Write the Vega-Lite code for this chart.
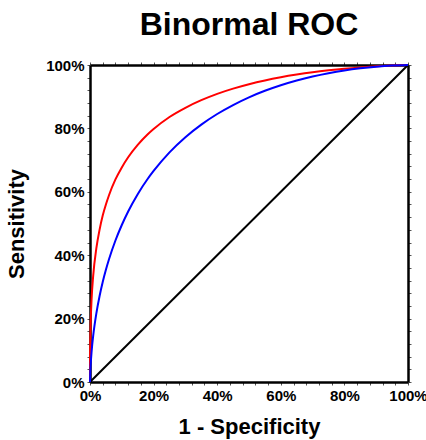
{
  "$schema": "https://vega.github.io/schema/vega-lite/v6.json",
  "autosize": "none",
  "width": 318,
  "height": 317,
  "padding": {"left": 90, "top": 65, "right": 18, "bottom": 58},
  "background": "white",
  "title": {"text": "Binormal ROC", "font": "Liberation Sans", "fontSize": 32, "fontWeight": "bold", "color": "black", "anchor": "middle", "offset": 16},
  "config": {"view": {"stroke": null}},
  "datasets": {
    "diag": [{"fpr": 0, "tpr": 0}, {"fpr": 1, "tpr": 1}],
    "red": [
      {"fpr": 0, "tpr": 0}, {"fpr": 0.0002, "tpr": 0.08}, {"fpr": 0.001, "tpr": 0.141}, {"fpr": 0.002, "tpr": 0.185}, {"fpr": 0.005, "tpr": 0.261},
      {"fpr": 0.01, "tpr": 0.335}, {"fpr": 0.02, "tpr": 0.422}, {"fpr": 0.03, "tpr": 0.48}, {"fpr": 0.04, "tpr": 0.525},
      {"fpr": 0.05, "tpr": 0.56}, {"fpr": 0.06, "tpr": 0.59}, {"fpr": 0.08, "tpr": 0.639}, {"fpr": 0.1, "tpr": 0.677},
      {"fpr": 0.12, "tpr": 0.709}, {"fpr": 0.15, "tpr": 0.748}, {"fpr": 0.18, "tpr": 0.78}, {"fpr": 0.2, "tpr": 0.798},
      {"fpr": 0.25, "tpr": 0.836}, {"fpr": 0.3, "tpr": 0.865}, {"fpr": 0.35, "tpr": 0.889}, {"fpr": 0.4, "tpr": 0.909},
      {"fpr": 0.45, "tpr": 0.9255}, {"fpr": 0.5, "tpr": 0.9394}, {"fpr": 0.55, "tpr": 0.9512}, {"fpr": 0.6, "tpr": 0.9612},
      {"fpr": 0.65, "tpr": 0.9697}, {"fpr": 0.7, "tpr": 0.977}, {"fpr": 0.75, "tpr": 0.9831}, {"fpr": 0.8, "tpr": 0.9883},
      {"fpr": 0.85, "tpr": 0.9925}, {"fpr": 0.9, "tpr": 0.9959}, {"fpr": 0.95, "tpr": 0.9984}, {"fpr": 1, "tpr": 1}
    ],
    "blue": [
      {"fpr": 0, "tpr": 0}, {"fpr": 0.001, "tpr": 0.0344}, {"fpr": 0.002, "tpr": 0.0539}, {"fpr": 0.005, "tpr": 0.0958},
      {"fpr": 0.01, "tpr": 0.1455}, {"fpr": 0.02, "tpr": 0.2165}, {"fpr": 0.03, "tpr": 0.2706}, {"fpr": 0.04, "tpr": 0.3153},
      {"fpr": 0.05, "tpr": 0.3538}, {"fpr": 0.06, "tpr": 0.3878}, {"fpr": 0.08, "tpr": 0.4463}, {"fpr": 0.1, "tpr": 0.4952},
      {"fpr": 0.12, "tpr": 0.5378}, {"fpr": 0.15, "tpr": 0.5925}, {"fpr": 0.18, "tpr": 0.6387}, {"fpr": 0.2, "tpr": 0.6657},
      {"fpr": 0.25, "tpr": 0.7244}, {"fpr": 0.3, "tpr": 0.7722}, {"fpr": 0.35, "tpr": 0.8119}, {"fpr": 0.4, "tpr": 0.8454},
      {"fpr": 0.45, "tpr": 0.8737}, {"fpr": 0.5, "tpr": 0.898}, {"fpr": 0.55, "tpr": 0.9186}, {"fpr": 0.6, "tpr": 0.9361},
      {"fpr": 0.65, "tpr": 0.951}, {"fpr": 0.7, "tpr": 0.9636}, {"fpr": 0.75, "tpr": 0.9741}, {"fpr": 0.8, "tpr": 0.9827},
      {"fpr": 0.85, "tpr": 0.9894}, {"fpr": 0.9, "tpr": 0.9946}, {"fpr": 0.95, "tpr": 0.9982}, {"fpr": 1, "tpr": 1}
    ]
  },
  "resolve": {"axis": {"x": "independent", "y": "independent"}},
  "layer": [
    {
      "data": {"name": "diag"},
      "mark": {"type": "line", "color": "black", "strokeWidth": 2},
      "encoding": {
        "x": {"field": "fpr", "type": "quantitative", "scale": {"domain": [0, 1], "nice": false},
          "axis": {"orient": "bottom", "title": "1 - Specificity", "format": ".0%",
            "values": [0,0.04,0.08,0.12,0.16,0.2,0.24,0.28,0.32,0.36,0.4,0.44,0.48,0.52,0.56,0.6,0.64,0.68,0.72,0.76,0.8,0.84,0.88,0.92,0.96,1],
            "labelExpr": "abs(datum.value*5 - round(datum.value*5)) < 0.001 ? datum.label : ''",
            "grid": false, "domainColor": "black", "domainWidth": 2.5, "tickColor": "#555", "tickSize": 3, "tickWidth": 1,
            "labelFont": "Liberation Sans", "labelFontWeight": "bold", "labelFontSize": 15, "labelColor": "black", "labelPadding": 3, "labelFlush": false, "labelOverlap": false,
            "titleFont": "Liberation Sans", "titleFontWeight": "bold", "titleFontSize": 22, "titleColor": "black", "titlePadding": 13}},
        "y": {"field": "tpr", "type": "quantitative", "scale": {"domain": [0, 1], "nice": false},
          "axis": {"orient": "left", "title": "Sensitivity", "format": ".0%",
            "values": [0,0.04,0.08,0.12,0.16,0.2,0.24,0.28,0.32,0.36,0.4,0.44,0.48,0.52,0.56,0.6,0.64,0.68,0.72,0.76,0.8,0.84,0.88,0.92,0.96,1],
            "labelExpr": "abs(datum.value*5 - round(datum.value*5)) < 0.001 ? datum.label : ''",
            "grid": false, "domainColor": "black", "domainWidth": 2.5, "tickColor": "#555", "tickSize": 3, "tickWidth": 1,
            "labelFont": "Liberation Sans", "labelFontWeight": "bold", "labelFontSize": 15, "labelColor": "black", "labelPadding": 3, "labelFlush": false, "labelOverlap": false,
            "titleFont": "Liberation Sans", "titleFontWeight": "bold", "titleFontSize": 22, "titleColor": "black", "titlePadding": 17}}
      }
    },
    {
      "data": {"name": "red"},
      "mark": {"type": "line", "color": "#ff0000", "strokeWidth": 2, "interpolate": "monotone"},
      "encoding": {
        "x": {"field": "fpr", "type": "quantitative", "scale": {"domain": [0, 1], "nice": false},
          "axis": {"orient": "top", "title": null, "labels": false,
            "values": [0,0.04,0.08,0.12,0.16,0.2,0.24,0.28,0.32,0.36,0.4,0.44,0.48,0.52,0.56,0.6,0.64,0.68,0.72,0.76,0.8,0.84,0.88,0.92,0.96,1],
            "grid": false, "domainColor": "black", "domainWidth": 2.5, "tickColor": "#555", "tickSize": 3, "tickWidth": 1}},
        "y": {"field": "tpr", "type": "quantitative", "scale": {"domain": [0, 1], "nice": false},
          "axis": {"orient": "right", "title": null, "labels": false,
            "values": [0,0.04,0.08,0.12,0.16,0.2,0.24,0.28,0.32,0.36,0.4,0.44,0.48,0.52,0.56,0.6,0.64,0.68,0.72,0.76,0.8,0.84,0.88,0.92,0.96,1],
            "grid": false, "domainColor": "black", "domainWidth": 2.5, "tickColor": "#555", "tickSize": 3, "tickWidth": 1}}
      }
    },
    {
      "data": {"name": "blue"},
      "mark": {"type": "line", "color": "#0000ff", "strokeWidth": 2, "interpolate": "monotone"},
      "encoding": {
        "x": {"field": "fpr", "type": "quantitative", "scale": {"domain": [0, 1], "nice": false}, "axis": null},
        "y": {"field": "tpr", "type": "quantitative", "scale": {"domain": [0, 1], "nice": false}, "axis": null}
      }
    }
  ]
}
